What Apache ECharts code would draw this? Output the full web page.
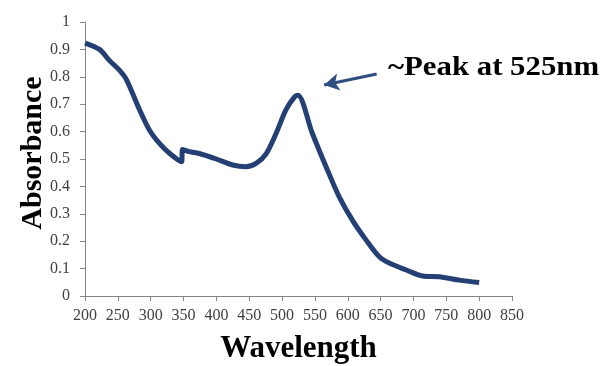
<!DOCTYPE html>
<html><head><meta charset="utf-8">
<script src="https://cdn.jsdelivr.net/npm/echarts@6/dist/echarts.min.js"></script>
<style>html,body{margin:0;padding:0;background:#fff}#c{width:605px;height:366px}</style>
</head><body><div id="c"></div>
<script>
var wavelength = [200,222,237,252,263,283,298,313,329,347,348.5,359,374,400,425,445,461,476,491,506,519,524,546,569,587,607,628,648,663,689,714,739,770,800];
var absorbance = [0.923,0.90,0.86,0.825,0.79,0.68,0.606,0.558,0.52,0.49,0.535,0.527,0.52,0.50,0.478,0.472,0.485,0.52,0.594,0.68,0.727,0.733,0.594,0.46,0.362,0.277,0.204,0.143,0.12,0.095,0.073,0.07,0.058,0.049];
var arrowFrom = [644, 0.81];
var arrowTo = [564, 0.77];
var annotation = '~Peak at 525nm';
var xName = 'Wavelength';
var yName = 'Absorbance';

var chart = echarts.init(document.getElementById('c'));
var serif = '"Liberation Serif","Times New Roman",serif';
chart.setOption({
  animation: false,
  grid: {left: 85, right: 93, top: 22, bottom: 70, containLabel: false, outerBoundsMode: 'none'},
  xAxis: {
    type: 'value', min: 200, max: 850, interval: 50,
    name: xName, nameLocation: 'middle', nameGap: 37,
    nameTextStyle: {fontFamily: serif, fontWeight: 'bold', fontSize: 31, color: '#000'},
    axisLine: {lineStyle: {color: '#868686', width: 1}},
    axisTick: {show: true, length: 5, lineStyle: {color: '#868686'}},
    axisLabel: {fontFamily: serif, fontSize: 16, color: '#404040', margin: 12},
    splitLine: {show: false}
  },
  yAxis: {
    type: 'value', min: 0, max: 1, interval: 0.1,
    axisLine: {show: true, lineStyle: {color: '#868686', width: 1}},
    axisTick: {show: true, length: 5, lineStyle: {color: '#868686'}},
    axisLabel: {fontFamily: serif, fontSize: 16, color: '#404040', margin: 15},
    splitLine: {show: false}
  },
  series: [{
    type: 'line',
    data: wavelength.map(function(w, i){ return [w, absorbance[i]]; }),
    smooth: 0.3,
    showSymbol: false,
    lineStyle: {color: '#243F73', width: 5},
    markLine: {
      silent: true,
      symbol: ['none', 'arrow'],
      symbolSize: [13, 15],
      label: {show: false},
      lineStyle: {color: '#2E4D80', width: 3, type: 'solid'},
      data: [[{coord: arrowFrom}, {coord: arrowTo}]]
    }
  }],
  graphic: [{
    type: 'text', x: 388, y: 68, scaleX: 1.1,
    style: {text: annotation, font: 'bold 28px ' + serif, fill: '#000', verticalAlign: 'middle'}
  }, {
    type: 'text', x: 33, y: 153, rotation: Math.PI / 2,
    style: {text: yName, font: 'bold 30px ' + serif, fill: '#000', align: 'center', verticalAlign: 'middle'}
  }]
});
</script></body></html>
